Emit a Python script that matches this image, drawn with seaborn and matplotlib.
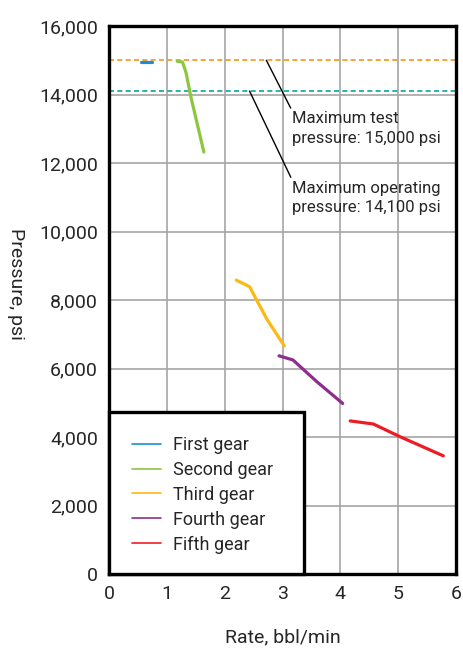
import matplotlib
matplotlib.use("Agg")
import matplotlib.pyplot as plt
from matplotlib.patches import Rectangle
import pandas as pd
import seaborn as sns

# gear curves (rate bbl/min, pressure psi)
first_rate = [0.55, 0.75]
first_psi = [14950, 14950]
second_rate = [1.18, 1.27, 1.33, 1.42, 1.64]
second_psi = [14970, 14950, 14650, 13900, 12320]
third_rate = [2.20, 2.43, 2.73, 3.03]
third_psi = [8580, 8390, 7440, 6660]
fourth_rate = [2.94, 3.18, 3.59, 4.04]
fourth_psi = [6370, 6250, 5620, 4980]
fifth_rate = [4.17, 4.57, 5.03, 5.78]
fifth_psi = [4470, 4380, 4010, 3450]

gears = ["First gear", "Second gear", "Third gear", "Fourth gear", "Fifth gear"]
colors = ["#1b8fd2", "#8dc63f", "#fdb913", "#8e2d8e", "#ed1c24"]

max_test = 15000
max_oper = 14100

rows = []
for g, xs, ys in zip(gears,
                     [first_rate, second_rate, third_rate, fourth_rate, fifth_rate],
                     [first_psi, second_psi, third_psi, fourth_psi, fifth_psi]):
    for x, y in zip(xs, ys):
        rows.append({"gear": g, "rate": x, "psi": y})
df = pd.DataFrame(rows)

sns.set_style("white")
plt.rcParams["font.family"] = ["Roboto", "DejaVu Sans"]

fig = plt.figure(figsize=(4.63, 6.5), dpi=100)
ax = fig.add_axes([0.2354, 0.1169, 0.7496, 0.8431])

sns.lineplot(data=df, x="rate", y="psi", hue="gear", hue_order=gears,
             palette=colors, sort=False, estimator=None, linewidth=2.3, ax=ax, legend=False)

ax.axhline(max_test, color="#f7941d", ls=(0, (3, 2)), lw=1.2, zorder=1)
ax.axhline(max_oper, color="#00a99d", ls=(0, (3, 2)), lw=1.2, zorder=1)

ax.set_xlim(0, 6)
ax.set_ylim(0, 16000)
ax.set_xticks(range(0, 7))
ax.set_yticks(range(0, 16001, 2000))
ax.set_yticklabels([f"{v:,}" for v in range(0, 16001, 2000)])
ax.grid(True, color="#a6a6a6", lw=1.2)
ax.set_axisbelow(True)
for s in ax.spines.values():
    s.set_color("black")
    s.set_linewidth(2.4)
ax.tick_params(length=0, labelsize=14, pad=8)

ax.set_xlabel("Rate, bbl/min", fontsize=14, labelpad=18)
ax.set_ylabel("Pressure, psi", fontsize=14, rotation=270, labelpad=-2)
ax.yaxis.set_label_coords(-0.295, 0.53)

# callouts
ax.annotate("Maximum test\npressure: 15,000 psi", xy=(2.72, max_test), xytext=(3.17, 13000),
            fontsize=12, ha="left", va="center", linespacing=1.4,
            arrowprops=dict(arrowstyle="-", color="black", lw=1, shrinkA=0, shrinkB=0,
                            relpos=(0, 1)))
ax.annotate("Maximum operating\npressure: 14,100 psi", xy=(2.43, max_oper), xytext=(3.17, 10980),
            fontsize=12, ha="left", va="center", linespacing=1.4,
            arrowprops=dict(arrowstyle="-", color="black", lw=1, shrinkA=0, shrinkB=0,
                            relpos=(0, 1)))

# legend box
box = Rectangle((0, 0), 0.562, 0.296, transform=ax.transAxes, facecolor="white",
                edgecolor="black", lw=2.4, zorder=5, clip_on=False)
ax.add_patch(box)
handles = [plt.Line2D([], [], color=c, lw=1.2) for c in colors]
leg = ax.legend(handles, gears, loc="upper left", bbox_to_anchor=(0.045, 0.265),
                frameon=False, fontsize=13, handlelength=1.6, handletextpad=0.7,
                labelspacing=0.38, borderaxespad=0)
leg.set_zorder(6)

fig.savefig("out.png", dpi=100)
